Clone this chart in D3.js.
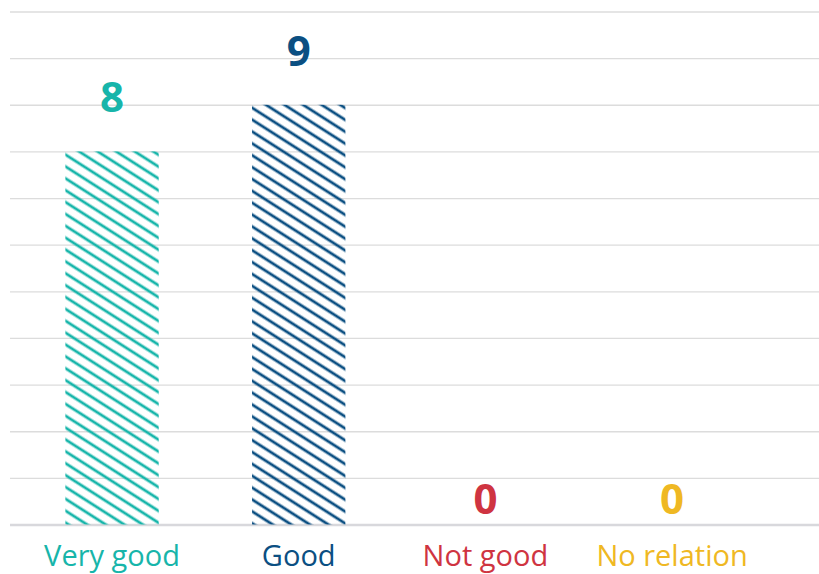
<!DOCTYPE html>
<html><head><meta charset="utf-8">
<script src="https://cdn.jsdelivr.net/npm/d3@7"></script>
<style>body{margin:0;background:#fff}svg{display:block}</style>
</head><body>
<script>
const categories = ["Very good", "Good", "Not good", "No relation"];
const values = [8, 9, 0, 0];
const colors = ["#17b5aa", "#0b4f82", "#cf3441", "#efb823"];
const yTicks = d3.range(0, 12);

const W = 819, H = 574;
const svg = d3.select("body").append("svg").attr("width", W).attr("height", H);
const x = d3.scaleBand().domain(categories).range([18.7, 765.4]).paddingInner(0.5).paddingOuter(0.25);
const y = d3.scaleLinear().domain([0, 11]).range([524.5, 11.5]);

const defs = svg.append("defs");
categories.forEach((c, i) => {
  const p = defs.append("pattern").attr("id", "hatch" + i).attr("patternUnits", "userSpaceOnUse")
    .attr("width", 40).attr("height", 10).attr("patternTransform", "rotate(32.6)");
  p.append("rect").attr("width", 40).attr("height", 2.8).attr("y", 3.6).attr("fill", colors[i]);
});

const grid = svg.append("g")
  .call(d3.axisLeft(y).tickValues(yTicks).tickSize(-(W - 10)).tickFormat(""))
  .attr("transform", "translate(10,0)");
grid.select(".domain").remove();
grid.selectAll(".tick line").attr("stroke", "#dcdcdc").attr("stroke-width", 1.3);
grid.selectAll(".tick").filter(d => d === 0).select("line").attr("stroke", "#d8d8dc").attr("stroke-width", 2.5);

svg.selectAll("rect.bar").data(categories).enter().append("rect").attr("class", "bar")
  .attr("x", d => x(d)).attr("width", x.bandwidth())
  .attr("y", (d, i) => y(values[i])).attr("height", (d, i) => y(0) - y(values[i]))
  .attr("fill", (d, i) => `url(#hatch${i})`);

svg.selectAll("text.val").data(categories).enter().append("text").attr("class", "val")
  .attr("x", d => x(d) + x.bandwidth() / 2)
  .attr("y", (d, i) => values[i] > 0 ? y(values[i]) - 39 : y(0) - 11)
  .attr("text-anchor", "middle").attr("font-family", "Open Sans").attr("font-weight", "bold")
  .attr("font-size", 42).attr("fill", (d, i) => colors[i]).text((d, i) => values[i]);

const xa = svg.append("g").attr("transform", `translate(0,${y(0)})`)
  .call(d3.axisBottom(x).tickSize(0).tickPadding(0));
xa.select(".domain").remove();
xa.selectAll(".tick text").attr("font-family", "Open Sans").attr("font-size", 29)
  .attr("dy", 0).attr("y", 41).attr("fill", (d, i) => colors[i]);
</script>
</body></html>
